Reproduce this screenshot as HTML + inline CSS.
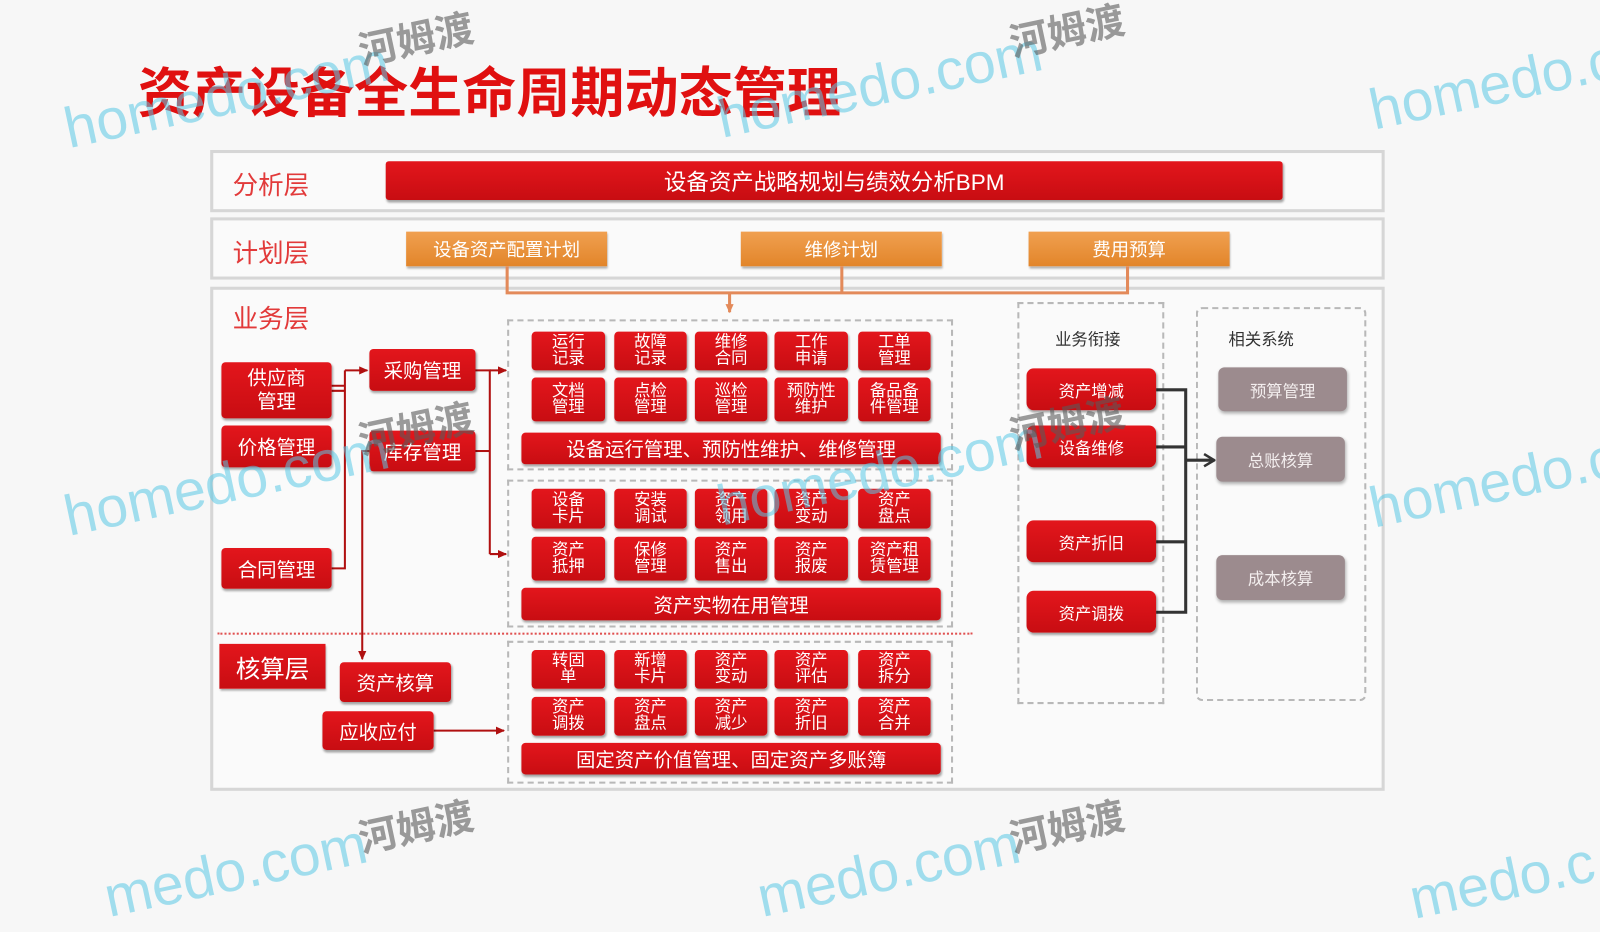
<!DOCTYPE html>
<html><head><meta charset="utf-8">
<style>
html,body{margin:0;padding:0;width:1600px;height:900px;overflow:hidden;background:#f7f7f7;}
#w{position:absolute;left:0;top:0;width:1568px;height:882px;transform:scale(1.0204);transform-origin:0 0;font-family:"Liberation Sans","Noto Sans CJK SC",sans-serif;}
.a{position:absolute;box-sizing:border-box;}
.fr{border:3px solid #d6d6d6;background:#fafafa;}
.lbl{color:#e23a3a;font-size:25px;}
.r{background:linear-gradient(#e3161c,#c80d12);color:#fff;border-radius:4px;display:flex;align-items:center;justify-content:center;text-align:center;box-shadow:1px 2px 2px rgba(0,0,0,.35);}
.c{font-size:16px;line-height:16px;}
.o{background:linear-gradient(#f0a050,#e2852a);color:#fff;font-size:18px;display:flex;align-items:center;justify-content:center;box-shadow:1px 2px 2px rgba(0,0,0,.3);}
.g{background:#9c8b8e;color:#f3eeee;font-size:16px;border-radius:6px;display:flex;align-items:center;justify-content:center;box-shadow:1px 2px 3px rgba(0,0,0,.3);}
.d{border:2px dashed #b8b8b8;}
.wm{position:absolute;font-size:56px;color:rgba(90,200,230,.55);transform:rotate(-12deg);white-space:nowrap;font-family:"Liberation Sans",sans-serif;}
.wm2{position:absolute;font-size:38px;color:rgba(90,90,90,.6);font-weight:bold;transform:rotate(-12deg);white-space:nowrap;font-family:"Noto Sans CJK SC",sans-serif;}
</style></head><body><div id="w">
<div class="a" style="left:135px;top:50px;font-size:53px;font-weight:bold;color:#e01010;white-space:nowrap;">资产设备全生命周期动态管理</div>

<div class="a fr" style="left:206px;top:147px;width:1151px;height:61px;"></div>
<div class="a lbl" style="left:228px;top:162px;">分析层</div>
<div class="a r" style="left:378px;top:158px;width:879px;height:38px;font-size:22px;border-radius:3px;">设备资产战略规划与绩效分析BPM</div>

<div class="a fr" style="left:206px;top:213px;width:1151px;height:61px;"></div>
<div class="a lbl" style="left:228px;top:229px;">计划层</div>
<div class="a o" style="left:398px;top:227px;width:197px;height:34px;">设备资产配置计划</div>
<div class="a o" style="left:726px;top:227px;width:197px;height:34px;">维修计划</div>
<div class="a o" style="left:1008px;top:227px;width:197px;height:34px;">费用预算</div>

<div class="a fr" style="left:206px;top:281px;width:1151px;height:494px;"></div>
<div class="a lbl" style="left:228px;top:293px;">业务层</div>

<div class="a d" style="left:497px;top:313px;width:437px;height:148px;"></div>
<div class="a d" style="left:497px;top:470px;width:437px;height:145px;"></div>
<div class="a d" style="left:497px;top:628px;width:437px;height:140px;"></div>
<div class="a d" style="left:997px;top:296px;width:144px;height:394px;"></div>
<div class="a d" style="left:1172px;top:301px;width:167px;height:386px;border-radius:6px;"></div>

<div class="a" style="left:213px;top:620px;width:740px;border-top:2px dotted #e05050;"></div>

<svg class="a" style="left:0;top:0;" width="1568" height="882">
<defs>
<marker id="ar" markerUnits="userSpaceOnUse" markerWidth="9" markerHeight="8" refX="8" refY="4" orient="auto"><path d="M0,0L9,4L0,8z" fill="#b01010"/></marker>
<marker id="ao" markerUnits="userSpaceOnUse" markerWidth="9" markerHeight="8" refX="8" refY="4" orient="auto"><path d="M0,0L9,4L0,8z" fill="#e38a5a"/></marker>
<marker id="ak" markerUnits="userSpaceOnUse" markerWidth="12" markerHeight="14" refX="11" refY="7" orient="auto"><path d="M1,1L11,7L1,13" fill="none" stroke="#333" stroke-width="2.5"/></marker>
</defs>
<g stroke="#e38a5a" stroke-width="3" fill="none">
<path d="M497,261V287H1105V261"/><path d="M825,261V287"/>
<path d="M715,287V306" marker-end="url(#ao)"/>
</g>
<g stroke="#b01010" stroke-width="2" fill="none">
<path d="M325,378H338M325,383H338"/>
<path d="M338,363V557H325"/>
<path d="M338,363H360" marker-end="url(#ar)"/>
<path d="M466,363H480V543"/>
<path d="M480,363H496" marker-end="url(#ar)"/>
<path d="M480,543H496" marker-end="url(#ar)"/>
<path d="M466,442H480"/>
<path d="M362,442H355V646" marker-end="url(#ar)"/>
<path d="M425,716H494" marker-end="url(#ar)"/>
</g>
<g stroke="#333" stroke-width="3" fill="none">
<path d="M1133,382H1162V600H1133M1133,438H1162M1133,531H1162"/>
<path d="M1162,451H1190" marker-end="url(#ak)"/>
</g>
</svg>

<div class="a r" style="left:217px;top:355px;width:108px;height:55px;font-size:19px;line-height:23px;">供应商<br>管理</div>
<div class="a r" style="left:217px;top:417px;width:108px;height:41px;font-size:19px;">价格管理</div>
<div class="a r" style="left:217px;top:537px;width:108px;height:40px;font-size:19px;">合同管理</div>
<div class="a r" style="left:362px;top:342px;width:104px;height:41px;font-size:19px;">采购管理</div>
<div class="a r" style="left:362px;top:422px;width:104px;height:40px;font-size:19px;">库存管理</div>
<div class="a r" style="left:215px;top:631px;width:104px;height:44px;font-size:24px;border-radius:0;">核算层</div>
<div class="a r" style="left:333px;top:649px;width:109px;height:39px;font-size:19px;">资产核算</div>
<div class="a r" style="left:316px;top:697px;width:109px;height:38px;font-size:19px;">应收应付</div>

<!-- group 1 -->
<div class="a r c" style="left:521px;top:325px;width:72px;height:38px;">运行<br>记录</div>
<div class="a r c" style="left:602px;top:325px;width:71px;height:38px;">故障<br>记录</div>
<div class="a r c" style="left:681px;top:325px;width:71px;height:38px;">维修<br>合同</div>
<div class="a r c" style="left:759px;top:325px;width:72px;height:38px;">工作<br>申请</div>
<div class="a r c" style="left:841px;top:325px;width:71px;height:38px;">工单<br>管理</div>
<div class="a r c" style="left:521px;top:370px;width:72px;height:43px;">文档<br>管理</div>
<div class="a r c" style="left:602px;top:370px;width:71px;height:43px;">点检<br>管理</div>
<div class="a r c" style="left:681px;top:370px;width:71px;height:43px;">巡检<br>管理</div>
<div class="a r c" style="left:759px;top:370px;width:72px;height:43px;">预防性<br>维护</div>
<div class="a r c" style="left:841px;top:370px;width:71px;height:43px;">备品备<br>件管理</div>
<div class="a r" style="left:511px;top:424px;width:411px;height:31px;font-size:19px;">设备运行管理、预防性维护、维修管理</div>
<!-- group 2 -->
<div class="a r c" style="left:521px;top:479px;width:72px;height:39px;">设备<br>卡片</div>
<div class="a r c" style="left:602px;top:479px;width:71px;height:39px;">安装<br>调试</div>
<div class="a r c" style="left:681px;top:479px;width:71px;height:39px;">资产<br>领用</div>
<div class="a r c" style="left:759px;top:479px;width:72px;height:39px;">资产<br>变动</div>
<div class="a r c" style="left:841px;top:479px;width:71px;height:39px;">资产<br>盘点</div>
<div class="a r c" style="left:521px;top:526px;width:72px;height:43px;">资产<br>抵押</div>
<div class="a r c" style="left:602px;top:526px;width:71px;height:43px;">保修<br>管理</div>
<div class="a r c" style="left:681px;top:526px;width:71px;height:43px;">资产<br>售出</div>
<div class="a r c" style="left:759px;top:526px;width:72px;height:43px;">资产<br>报废</div>
<div class="a r c" style="left:841px;top:526px;width:71px;height:43px;">资产租<br>赁管理</div>
<div class="a r" style="left:511px;top:576px;width:411px;height:32px;font-size:19px;">资产实物在用管理</div>
<!-- group 3 -->
<div class="a r c" style="left:521px;top:637px;width:72px;height:38px;">转固<br>单</div>
<div class="a r c" style="left:602px;top:637px;width:71px;height:38px;">新增<br>卡片</div>
<div class="a r c" style="left:681px;top:637px;width:71px;height:38px;">资产<br>变动</div>
<div class="a r c" style="left:759px;top:637px;width:72px;height:38px;">资产<br>评估</div>
<div class="a r c" style="left:841px;top:637px;width:71px;height:38px;">资产<br>拆分</div>
<div class="a r c" style="left:521px;top:683px;width:72px;height:38px;">资产<br>调拨</div>
<div class="a r c" style="left:602px;top:683px;width:71px;height:38px;">资产<br>盘点</div>
<div class="a r c" style="left:681px;top:683px;width:71px;height:38px;">资产<br>减少</div>
<div class="a r c" style="left:759px;top:683px;width:72px;height:38px;">资产<br>折旧</div>
<div class="a r c" style="left:841px;top:683px;width:71px;height:38px;">资产<br>合并</div>
<div class="a r" style="left:511px;top:728px;width:411px;height:31px;font-size:19px;">固定资产价值管理、固定资产多账簿</div>

<div class="a" style="left:1034px;top:319px;font-size:16px;color:#333;">业务衔接</div>
<div class="a" style="left:1204px;top:319px;font-size:16px;color:#333;">相关系统</div>
<div class="a r" style="left:1006px;top:361px;width:127px;height:41px;font-size:16px;border-radius:7px;">资产增减</div>
<div class="a r" style="left:1006px;top:417px;width:127px;height:41px;font-size:16px;border-radius:7px;">设备维修</div>
<div class="a r" style="left:1006px;top:510px;width:127px;height:41px;font-size:16px;border-radius:7px;">资产折旧</div>
<div class="a r" style="left:1006px;top:579px;width:127px;height:41px;font-size:16px;border-radius:7px;">资产调拨</div>
<div class="a g" style="left:1194px;top:360px;width:126px;height:43px;">预算管理</div>
<div class="a g" style="left:1192px;top:428px;width:126px;height:44px;">总账核算</div>
<div class="a g" style="left:1192px;top:544px;width:126px;height:44px;">成本核算</div>

<!-- watermarks -->
<div class="wm" style="left:60px;top:60px;">homedo.com</div><div class="wm2" style="left:350px;top:8px;">河姆渡</div>
<div class="wm" style="left:700px;top:50px;">homedo.com</div><div class="wm2" style="left:988px;top:0px;">河姆渡</div>
<div class="wm" style="left:1340px;top:50px;">homedo.c</div>
<div class="wm" style="left:60px;top:440px;">homedo.com</div><div class="wm2" style="left:350px;top:390px;">河姆渡</div>
<div class="wm" style="left:700px;top:430px;">homedo.com</div><div class="wm2" style="left:988px;top:385px;">河姆渡</div>
<div class="wm" style="left:1340px;top:440px;">homedo.c</div>
<div class="wm" style="left:100px;top:820px;">medo.com</div><div class="wm2" style="left:350px;top:780px;">河姆渡</div>
<div class="wm" style="left:740px;top:820px;">medo.com</div><div class="wm2" style="left:988px;top:780px;">河姆渡</div>
<div class="wm" style="left:1380px;top:830px;">medo.c</div>
</div></body></html>
